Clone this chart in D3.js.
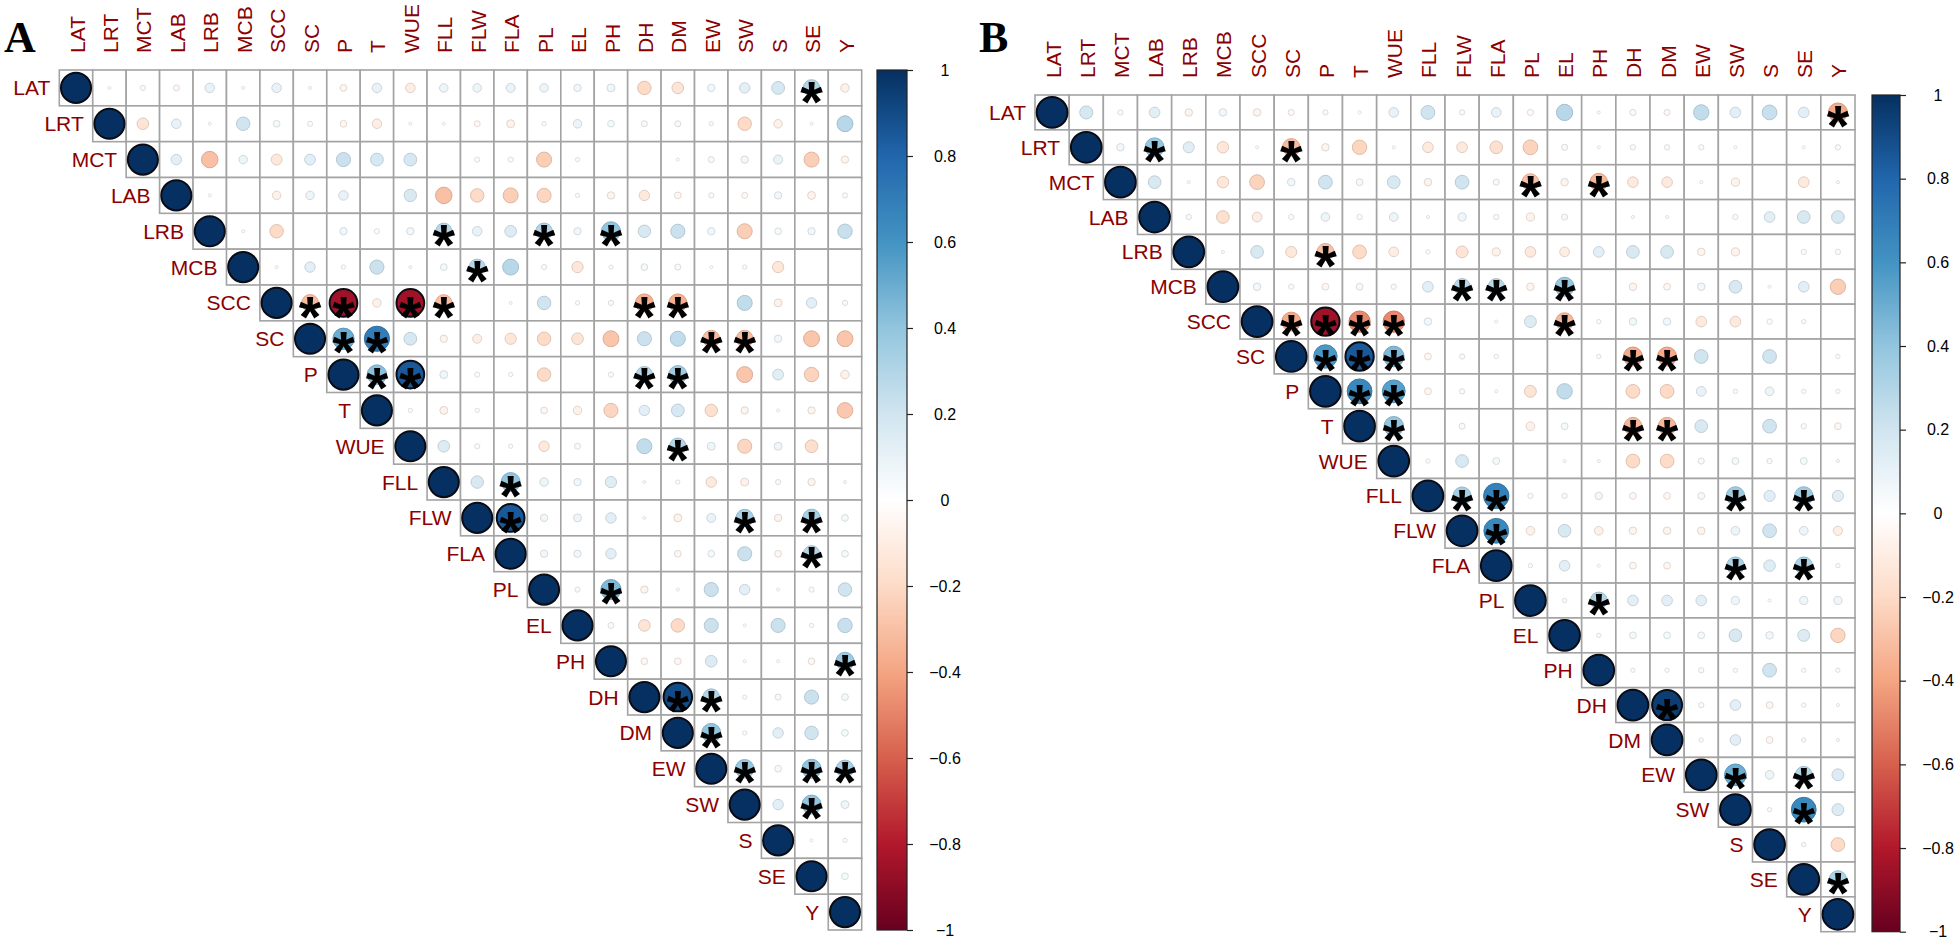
<!DOCTYPE html>
<html>
<head>
<meta charset="utf-8">
<script src="https://cdn.jsdelivr.net/npm/d3@7"></script>
<style>
  html, body { margin: 0; padding: 0; background: #ffffff; }
  svg { display: block; }
</style>
</head>
<body>
<svg id="chart" width="1958" height="944"></svg>
<script>
// ---------------- DATA ----------------
const vars = ["LAT","LRT","MCT","LAB","LRB","MCB","SCC","SC","P","T","WUE","FLL","FLW","FLA","PL","EL","PH","DH","DM","EW","SW","S","SE","Y"];

// Upper-triangle correlations, row i lists columns i+1 .. 23 (panel A)
const corrA = [
  [-0.01,-0.03,-0.04,0.10,-0.01,0.10,0.01,-0.05,0.10,-0.10,0.08,0.08,0.09,0.08,0.06,0.07,-0.20,-0.15,0.06,0.12,0.18,0.30,-0.08],
  [-0.15,0.10,0.01,0.20,0.05,-0.03,-0.05,-0.10,-0.01,0.01,-0.04,-0.07,-0.02,0.08,0.05,0.04,0.04,0.02,-0.20,-0.08,-0.01,0.28],
  [0.12,-0.30,0.08,-0.13,0.13,0.22,0.18,0.18,0.00,-0.03,-0.03,-0.25,0.02,0.00,0.00,0.01,0.04,0.06,0.09,-0.25,-0.06],
  [0.01,0.00,-0.08,0.08,0.10,0.00,0.17,-0.30,-0.20,-0.25,-0.22,-0.02,-0.06,-0.12,-0.05,-0.03,-0.04,0.06,-0.07,-0.03],
  [-0.01,-0.20,0.00,0.06,-0.03,0.06,0.29,0.10,0.15,0.30,0.06,0.40,0.17,0.22,0.06,-0.25,0.05,0.06,0.23],
  [0.01,0.12,0.02,0.22,-0.01,0.05,0.28,0.28,-0.03,-0.14,-0.02,0.05,0.04,0.01,0.02,-0.14,0.00,0.00],
  [-0.31,-0.85,-0.08,-0.85,-0.30,0.00,-0.01,0.20,-0.02,0.03,-0.36,-0.36,0.00,0.25,-0.07,0.12,0.03],
  [0.50,0.70,0.18,-0.06,-0.09,-0.14,-0.20,-0.15,-0.28,0.22,0.25,-0.31,-0.31,0.06,-0.28,-0.28],
  [0.42,0.85,0.07,-0.03,-0.02,-0.20,0.00,-0.03,0.29,0.36,0.00,-0.28,0.13,-0.23,-0.08],
  [0.02,-0.07,-0.02,0.00,-0.05,-0.08,-0.22,0.12,0.18,-0.17,-0.06,0.01,-0.06,-0.27],
  [0.15,-0.03,-0.02,-0.12,0.04,0.00,0.25,0.30,0.07,-0.22,0.07,-0.18,0.00],
  [0.17,0.40,0.08,0.06,0.14,0.01,-0.02,-0.12,-0.07,0.03,-0.06,0.01],
  [0.85,0.06,0.07,0.12,0.01,-0.07,0.09,0.33,-0.06,0.34,0.05],
  [0.06,0.06,0.12,0.00,-0.05,0.05,0.22,-0.05,0.29,0.05],
  [0.03,0.45,-0.06,0.01,0.22,0.12,0.01,0.03,0.20],
  [0.04,-0.15,-0.20,0.22,0.01,0.22,0.02,0.23],
  [-0.05,-0.05,0.15,0.01,0.01,-0.05,0.36],
  [0.90,0.30,-0.02,0.04,0.22,0.05],
  [0.40,-0.02,0.12,0.20,0.05],
  [0.38,0.05,0.40,0.33],
  [0.12,0.40,0.07],
  [0.01,-0.02],
  [0.05]
];

// Upper-triangle correlations (panel B)
const corrB = [
  [0.18,0.03,0.12,-0.06,0.06,-0.06,-0.04,0.03,0.01,0.10,0.20,0.03,0.10,-0.04,0.28,0.01,-0.04,-0.04,0.25,0.12,0.23,0.12,-0.38],
  [0.06,0.38,0.13,-0.14,0.01,-0.32,-0.06,-0.22,0.01,-0.12,-0.12,-0.17,-0.23,0.04,0.01,0.03,0.03,0.03,0.01,0.00,0.01,0.03],
  [0.17,0.01,-0.14,-0.23,0.06,0.20,0.05,0.17,-0.06,0.20,0.04,-0.30,-0.06,-0.33,-0.12,-0.12,0.01,-0.07,0.00,-0.12,0.01],
  [0.03,-0.17,-0.10,-0.03,0.08,-0.03,0.08,0.01,0.07,0.03,-0.07,0.04,0.00,0.01,0.01,0.00,0.03,0.12,0.17,0.17],
  [0.01,0.17,-0.13,-0.30,-0.20,-0.10,-0.02,-0.15,-0.07,-0.12,-0.10,0.12,0.17,0.17,-0.06,-0.07,0.00,-0.03,-0.03],
  [0.06,-0.03,-0.05,-0.05,0.03,0.12,0.28,0.28,-0.06,0.38,0.00,-0.06,-0.05,0.06,0.17,0.01,0.12,-0.25],
  [-0.38,-0.85,-0.48,-0.48,0.06,0.00,0.01,0.15,-0.33,0.02,0.06,0.06,-0.12,-0.12,-0.03,-0.02,0.00],
  [0.58,0.85,0.45,-0.05,0.03,-0.02,0.00,0.00,0.02,-0.38,-0.38,0.20,0.00,0.20,0.00,-0.02],
  [0.65,0.55,-0.05,0.03,-0.01,-0.15,0.25,0.00,-0.20,-0.20,0.10,0.02,0.08,-0.02,-0.02],
  [0.40,0.00,0.04,0.00,-0.08,0.05,0.00,-0.33,-0.33,0.17,0.00,0.20,-0.03,-0.05],
  [-0.02,0.17,0.05,0.00,0.01,0.01,-0.20,-0.20,0.04,0.05,0.03,0.05,0.01],
  [0.34,0.68,0.03,0.03,0.06,-0.05,-0.05,0.05,0.36,0.13,0.36,0.13],
  [0.65,-0.08,0.17,-0.08,-0.06,-0.06,-0.06,0.08,0.20,0.08,-0.09],
  [-0.02,0.12,0.01,-0.05,-0.05,0.00,0.32,0.14,0.32,0.02],
  [-0.02,0.30,0.12,0.12,0.12,0.07,0.01,0.07,0.07],
  [-0.02,0.05,0.05,0.05,0.17,0.06,0.15,-0.22],
  [0.02,0.02,0.03,-0.02,0.20,-0.02,0.02],
  [0.95,0.03,0.12,-0.05,0.02,0.01],
  [0.02,0.12,-0.05,0.02,0.01],
  [0.50,0.08,0.30,0.15],
  [0.02,0.65,0.15],
  [0.02,-0.20],
  [0.32]
];

// Significant pairs (marked with *)
const sigA = ["LAT-SE","LRB-FLL","LRB-PL","LRB-PH","MCB-FLW","SCC-SC","SCC-P","SCC-WUE","SCC-FLL","SCC-DH","SCC-DM",
  "SC-P","SC-T","SC-EW","SC-SW","P-T","P-WUE","P-DH","P-DM","WUE-DM","FLL-FLA","FLW-FLA","FLW-SW","FLW-SE","FLA-SE",
  "PL-PH","PH-Y","DH-DM","DH-EW","DM-EW","EW-SW","EW-SE","EW-Y","SW-SE"];
const sigB = ["LAT-Y","LRT-LAB","LRT-SC","MCT-PL","MCT-PH","LRB-P","MCB-FLW","MCB-FLA","MCB-EL","SCC-SC","SCC-P","SCC-T",
  "SCC-WUE","SCC-EL","SC-P","SC-T","SC-WUE","SC-DH","SC-DM","P-T","P-WUE","T-WUE","T-DH","T-DM","FLL-FLW","FLL-FLA",
  "FLL-SW","FLL-SE","FLW-FLA","FLA-SW","FLA-SE","PL-PH","DH-DM","EW-SW","EW-SE","SW-SE","SE-Y"];

const legendTicks = [1,0.8,0.6,0.4,0.2,0,-0.2,-0.4,-0.6,-0.8,-1];
const panelTitles = ["A","B"];

// ---------------- DRAWING ----------------
const svg = d3.select("#chart");
const colDomain = [-1,-0.8,-0.6,-0.4,-0.2,0,0.2,0.4,0.6,0.8,1];
const colRange = ["#67001F","#B2182B","#D6604D","#F4A582","#FDDBC7","#FFFFFF","#D1E5F0","#92C5DE","#4393C3","#2166AC","#053061"];
const color = d3.scaleLinear().domain(colDomain).range(colRange).interpolate(d3.interpolateRgb);

const panels = [
  {title: panelTitles[0], corr: corrA, sig: sigA, left: 59.3, top: 70, right: 861.7, bottom: 930,
   barX: 877, barW: 30, labelX: 945, titleX: 4},
  {title: panelTitles[1], corr: corrB, sig: sigB, left: 1035, top: 95, right: 1855, bottom: 931.7,
   barX: 1872, barW: 28, labelX: 1938, titleX: 979}
];

const labelCol = "#8B0000";
const defs = svg.append("defs");

panels.forEach((p, pi) => {
  const g = svg.append("g");
  const x = d3.scaleBand().domain(vars).range([p.left, p.right]);
  const y = d3.scaleBand().domain(vars).range([p.top, p.bottom]);
  const cw = x.bandwidth(), ch = y.bandwidth();
  const rScale = d3.scaleSqrt().domain([0,1]).range([0, 0.45 * Math.min(cw, ch)]);
  const sigSet = new Set(p.sig);

  const cells = [];
  vars.forEach((rv, i) => {
    vars.forEach((cv, j) => {
      if (j < i) return;
      const v = (j === i) ? 1 : p.corr[i][j - i - 1];
      cells.push({row: rv, col: cv, v: v, sig: sigSet.has(rv + "-" + cv)});
    });
  });

  // grid
  g.append("g").selectAll("rect").data(cells).join("rect")
    .attr("x", d => x(d.col)).attr("y", d => y(d.row))
    .attr("width", cw).attr("height", ch)
    .attr("fill", "#ffffff").attr("stroke", "#a3a3a3").attr("stroke-width", 1.6);

  // circles
  g.append("g").selectAll("circle").data(cells).join("circle")
    .attr("cx", d => x(d.col) + cw / 2).attr("cy", d => y(d.row) + ch / 2)
    .attr("r", d => rScale(Math.abs(d.v)))
    .attr("fill", d => color(d.v))
    .attr("stroke", d => {
      const c = d3.color(color(d.v));
      return Math.abs(d.v) > 0.8 ? "#0b0b14" : c.darker(0.35).formatHex();
    })
    .attr("stroke-width", d => Math.abs(d.v) > 0.8 ? 2 : 1);

  // significance stars
  const starSize = 58;
  g.append("g").selectAll("text").data(cells.filter(d => d.sig)).join("text")
    .attr("x", d => x(d.col) + cw / 2)
    .attr("y", d => y(d.row) + ch / 2 + starSize * 0.58)
    .attr("text-anchor", "middle")
    .attr("font-family", "Liberation Sans, Arial, sans-serif")
    .attr("font-weight", "bold")
    .attr("font-size", starSize)
    .attr("fill", "#000000")
    .text("*");

  // row labels
  g.append("g").selectAll("text").data(vars).join("text")
    .attr("x", (d) => x(d) - 9)
    .attr("y", d => y(d) + ch / 2)
    .attr("dy", "0.36em")
    .attr("text-anchor", "end")
    .attr("font-family", "Liberation Sans, Arial, sans-serif")
    .attr("font-size", 21)
    .attr("fill", labelCol)
    .text(d => d);

  // column labels
  g.append("g").selectAll("text").data(vars).join("text")
    .attr("transform", d => `translate(${x(d) + cw / 2 + 1},${p.top - 17}) rotate(-90)`)
    .attr("dy", "0.36em")
    .attr("text-anchor", "start")
    .attr("font-family", "Liberation Sans, Arial, sans-serif")
    .attr("font-size", 21)
    .attr("fill", labelCol)
    .text(d => d);

  // colour bar
  const gradId = "grad" + pi;
  const grad = defs.append("linearGradient").attr("id", gradId)
    .attr("x1", 0).attr("y1", 1).attr("x2", 0).attr("y2", 0);
  colDomain.forEach((v, k) => {
    grad.append("stop").attr("offset", (v + 1) / 2).attr("stop-color", colRange[k]);
  });
  const ly = d3.scaleLinear().domain([-1, 1]).range([p.bottom, p.top]);
  g.append("rect").attr("x", p.barX).attr("y", p.top)
    .attr("width", p.barW).attr("height", p.bottom - p.top)
    .attr("fill", `url(#${gradId})`).attr("stroke", "#222").attr("stroke-width", 1.2);
  const axis = d3.axisRight(ly).tickValues(legendTicks).tickSize(6).tickFormat(d => d3.format("")(d));
  const ag = g.append("g").attr("transform", `translate(${p.barX + p.barW},0)`).call(axis);
  ag.select(".domain").remove();
  ag.selectAll(".tick line").attr("stroke", "#222").attr("stroke-width", 1.2);
  ag.selectAll(".tick text")
    .attr("x", p.labelX - p.barX - p.barW)
    .attr("text-anchor", "middle")
    .attr("font-family", "Liberation Sans, Arial, sans-serif")
    .attr("font-size", 16)
    .attr("fill", "#000");

  // panel title
  svg.append("text").attr("x", p.titleX).attr("y", 52)
    .attr("font-family", "Liberation Serif, Times New Roman, serif")
    .attr("font-weight", "bold").attr("font-size", 44)
    .attr("fill", "#000").text(p.title);
});
</script>
</body>
</html>
